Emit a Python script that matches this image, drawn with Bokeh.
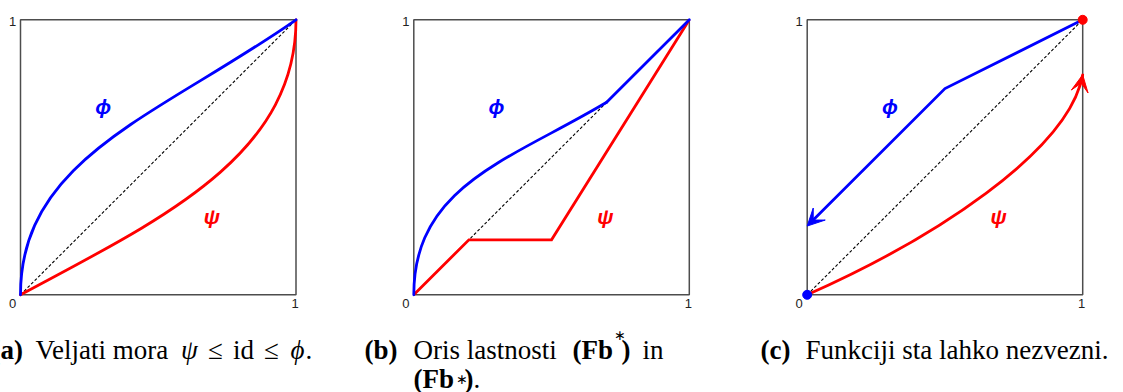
from bokeh.plotting import figure
from bokeh.models import Range1d, Arrow, VeeHead
from bokeh.core.properties import value
from bokeh.embed import file_html
from bokeh.resources import INLINE

# ---------------- data ----------------
diag_x = [0.0, 1.0]
diag_y = [0.0, 1.0]

# cubic curves: start point, control 1, control 2, end point
phi_a = [(0.0, 0.0), (0.0, 0.50), (0.50, 0.65), (1.0, 1.0)]
psi_a = [(0.0, 0.0), (0.50, 0.27), (1.0, 0.50), (1.0, 1.0)]

phi_b = [(0.0, 0.0), (0.0, 0.40), (0.35, 0.49), (0.70, 0.70)]
phi_b_tail_x = [0.70, 1.0]
phi_b_tail_y = [0.70, 1.0]
psi_b_x = [0.0, 0.2, 0.5, 1.0]
psi_b_y = [0.0, 0.2, 0.2, 1.0]

phi_c_x = [1.0, 0.5, 0.0]
phi_c_y = [1.0, 0.75, 0.25]
psi_c = [(0.0, 0.0), (0.45, 0.20), (0.95, 0.52), (1.0, 0.80)]
dot_c_x = [0.0, 1.0]
dot_c_y = [0.0, 1.0]
dot_c_color = ["#0000ff", "#ff0000"]

label_phi = ("\u03d5", 0.30, 0.685)
label_psi = ("\u03c8", 0.695, 0.283)
tick_text = ["0", "1", "1"]
tick_x = [0.0, 1.0, 0.0]
tick_y = [0.0, 0.0, 1.0]

# ---------------- layout ----------------
W, H = 1123, 392
BOX = 275.5
BOX_H = 275.0
LEFTS = {"a": 20.0, "b": 413.3, "c": 806.7}
TOP, BOTTOM = 19.3, 294.3

y0 = -(H - BOTTOM) / BOX_H
p = figure(width=W, height=H, output_backend="svg", toolbar_location=None,
           x_axis_location=None, y_axis_location=None,
           x_range=Range1d(-LEFTS["a"] / BOX, (W - LEFTS["a"]) / BOX),
           y_range=Range1d(y0, y0 + H / BOX_H),
           min_border=0, min_border_left=0, min_border_right=0,
           min_border_top=0, min_border_bottom=0)
p.grid.visible = False
p.outline_line_color = None
p.background_fill_color = "white"
p.border_fill_color = "white"
p.extra_x_ranges = {k: Range1d(-v / BOX, (W - v) / BOX) for k, v in LEFTS.items()}

BLUE, RED = "#0000ff", "#ff0000"
LW = 2.8


def bez(pts, color, rng):
    (x0, y0_), (cx0, cy0), (cx1, cy1), (x1, y1) = pts
    p.bezier(x0=[x0], y0=[y0_], cx0=[cx0], cy0=[cy0], cx1=[cx1], cy1=[cy1],
             x1=[x1], y1=[y1], line_color=color, line_width=LW, line_cap="round",
             x_range_name=rng)


for k in ["a", "b", "c"]:
    p.quad(left=[0], right=[1], bottom=[0], top=[1], fill_color=None,
           line_color="#4d4d4d", line_width=1.5, x_range_name=k)
    p.line(diag_x, diag_y, line_color="black", line_width=1.1,
           line_dash="3 2", x_range_name=k)

# panel (a)
bez(psi_a, RED, "a")
bez(phi_a, BLUE, "a")
# panel (b)
p.line(psi_b_x, psi_b_y, line_color=RED, line_width=LW, line_join="miter", x_range_name="b")
bez(phi_b, BLUE, "b")
p.line(phi_b_tail_x, phi_b_tail_y, line_color=BLUE, line_width=LW, line_cap="round", x_range_name="b")
# panel (c)
bez(psi_c, RED, "c")
p.line(phi_c_x[:-1] + [phi_c_x[-1] + 0.02], phi_c_y[:-1] + [phi_c_y[-1] + 0.02],
       line_color=BLUE, line_width=LW, line_join="miter", x_range_name="c")
p.add_layout(Arrow(x_start=phi_c_x[-2], y_start=phi_c_y[-2], x_end=phi_c_x[-1], y_end=phi_c_y[-1],
                   line_alpha=0, x_range_name="c",
                   end=VeeHead(size=17, fill_color=BLUE, line_color=BLUE, line_width=1)))
p.add_layout(Arrow(x_start=psi_c[2][0], y_start=psi_c[2][1], x_end=psi_c[3][0], y_end=psi_c[3][1],
                   line_alpha=0, x_range_name="c",
                   end=VeeHead(size=17, fill_color=RED, line_color=RED, line_width=1)))
p.scatter(dot_c_x, dot_c_y, size=9, color=dot_c_color, x_range_name="c")

for k in ["a", "b", "c"]:
    p.text(x=[label_phi[1]], y=[label_phi[2]], text=[label_phi[0]], x_range_name=k,
           text_color=BLUE, text_font=value("Liberation Sans"), text_font_style="bold italic",
           text_font_size="21px", text_align="center", text_baseline="middle")
    p.text(x=[label_psi[1]], y=[label_psi[2]], text=[label_psi[0]], x_range_name=k,
           text_color=RED, text_font=value("Liberation Sans"), text_font_style="bold italic",
           text_font_size="21px", text_align="center", text_baseline="middle")
    for t, tx, ty in zip(tick_text, tick_x, tick_y):
        xo = -8 if tx == 0 else -1
        yo = 2 if ty == 1 else 9
        p.text(x=[tx], y=[ty], text=[t], x_range_name=k, x_offset=xo, y_offset=yo,
               text_color="#222222", text_font=value("Liberation Sans"),
               text_font_size="13px", text_align="center", text_baseline="middle")

# ---------------- captions ----------------
SERIF = "Liberation Serif"


def cap(txt, px, py, style="normal", size=27, align="left", base="alphabetic"):
    p.text(x=[(px - LEFTS["a"]) / BOX], y=[(BOTTOM - py) / BOX_H], text=[txt],
           text_font=value(SERIF), text_font_style=style, text_font_size=f"{size}px",
           text_color="black", text_align=align, text_baseline=base)


L1, L2 = 349, 378
cap("(a)", -9, L1, "bold")
cap("Veljati mora", 35, L1)
cap("\u03c8", 189, L1, "italic", align="center")
cap("\u2264", 215, L1, align="center")
cap("id", 243, L1, align="center")
cap("\u2264", 271, L1, align="center")
cap("\u03d5", 297, L1, "italic", align="center")
cap(".", 305, L1)

cap("(b)", 364, L1, "bold")
cap("Oris lastnosti", 413, L1)
cap("(Fb", 572, L1, "bold")
cap("\u2217", 613, L1 - 14, "normal", 14, base="middle")
cap(")", 621, L1, "bold")
cap("in", 642, L1)
cap("(Fb", 413, L2, "bold")
cap("\u2217", 455, L2 + 1, "normal", 14, base="middle")
cap(")", 464, L2, "bold")
cap(".", 473, L2)

cap("(c)", 760, L1, "bold")
cap("Funkciji sta lahko nezvezni.", 805, L1)

open("out.html", "w").write(file_html(p, INLINE))
